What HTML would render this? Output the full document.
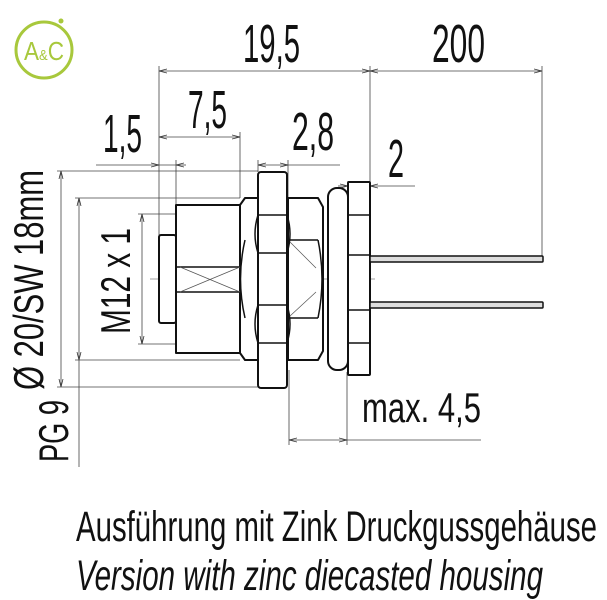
<!DOCTYPE html>
<html><head><meta charset="utf-8"><style>
html,body{margin:0;padding:0;background:#fff;}
svg{display:block;}
text{font-family:"Liberation Sans Narrow","Liberation Sans",sans-serif;fill:#111;}
</style></head><body>
<svg width="607" height="600" viewBox="0 0 607 600" xmlns="http://www.w3.org/2000/svg">
<defs>
<marker id="a" markerWidth="8" markerHeight="6" refX="8" refY="3" orient="auto-start-reverse" markerUnits="userSpaceOnUse"><path d="M0,1 L8,3 L0,5" fill="none" stroke="#333" stroke-width="0.8"/></marker>
</defs>
<!-- logo -->
<circle cx="44" cy="50" r="28" fill="none" stroke="#a8c83c" stroke-width="3"/>
<circle cx="61" cy="21" r="2.5" fill="#a8c83c"/>
<text x="44" y="60" text-anchor="middle" font-size="26" style="fill:#a8c83c" textLength="40" lengthAdjust="spacingAndGlyphs">A<tspan font-size="15">&amp;</tspan>C</text>

<g stroke="#444" stroke-width="0.8" fill="none">
<!-- vertical extension lines -->
<line x1="159" y1="66" x2="159" y2="235"/>
<line x1="176" y1="160" x2="176" y2="205"/>
<line x1="240" y1="132" x2="240" y2="198"/>
<line x1="258" y1="160" x2="258" y2="172"/>
<line x1="288" y1="160" x2="288" y2="198"/>
<line x1="348" y1="181" x2="348" y2="182"/>
<line x1="370" y1="66" x2="370" y2="256"/>
<line x1="542" y1="66" x2="542" y2="256"/>
<line x1="289" y1="370" x2="289" y2="445"/>
<line x1="347" y1="372" x2="347" y2="445"/>
<!-- horizontal dims -->
<line x1="159" y1="71" x2="370" y2="71" marker-start="url(#a)" marker-end="url(#a)"/>
<line x1="370" y1="71" x2="542" y2="71" marker-start="url(#a)" marker-end="url(#a)"/>
<line x1="159" y1="137" x2="240" y2="137" marker-start="url(#a)" marker-end="url(#a)"/>
<line x1="96" y1="165" x2="159" y2="165" marker-end="url(#a)"/>
<line x1="186" y1="165" x2="176" y2="165" marker-end="url(#a)"/>
<line x1="159" y1="165" x2="176" y2="165"/>
<line x1="258" y1="165" x2="288" y2="165" marker-start="url(#a)" marker-end="url(#a)"/>
<line x1="288" y1="165" x2="340" y2="165"/>
<line x1="338" y1="186" x2="348" y2="186" marker-end="url(#a)"/>
<line x1="415" y1="186" x2="370" y2="186" marker-end="url(#a)"/>
<line x1="348" y1="186" x2="370" y2="186"/>
<line x1="289" y1="440" x2="347" y2="440" marker-start="url(#a)" marker-end="url(#a)"/>
<line x1="347" y1="440" x2="481" y2="440"/>
<!-- left horizontal extension lines -->
<line x1="57" y1="171" x2="258" y2="171"/>
<line x1="57" y1="387" x2="258" y2="387"/>
<line x1="75" y1="198" x2="240" y2="198"/>
<line x1="75" y1="360" x2="240" y2="360"/>
<line x1="138" y1="214" x2="175" y2="214"/>
<line x1="138" y1="344" x2="175" y2="344"/>
<!-- left vertical dims -->
<line x1="61" y1="171" x2="61" y2="387" marker-start="url(#a)" marker-end="url(#a)"/>
<line x1="79" y1="198" x2="79" y2="360" marker-start="url(#a)" marker-end="url(#a)"/>
<line x1="79" y1="360" x2="79" y2="467"/>
<line x1="142" y1="214" x2="142" y2="344" marker-start="url(#a)" marker-end="url(#a)"/>
<!-- center line -->
<line x1="150" y1="279" x2="375" y2="279" stroke-width="0.5"/>
</g>

<!-- connector -->
<g stroke="#111" stroke-width="2" fill="#fff" stroke-linejoin="round">
<rect x="159" y="235" width="17" height="88" rx="2"/>
<rect x="176" y="205" width="64" height="148"/>
<path d="M240,205 L245,198 L258,198 L258,360 L245,360 L240,353 Z"/>
<path d="M288,198 L318,198 L323,207 L323,351 L318,360 L288,360 Z"/>
<rect x="328" y="188" width="20" height="182" rx="9"/>
<rect x="348" y="182" width="22" height="193" rx="1"/>
<rect x="258" y="172" width="29" height="216" rx="3"/>
</g>
<g stroke="#111" stroke-width="1.5" fill="none">
<line x1="176" y1="267" x2="240" y2="267"/>
<line x1="176" y1="292" x2="240" y2="292"/>
<path d="M245,240 Q236,279 245,318"/>
<line x1="258" y1="215" x2="287" y2="215"/>
<line x1="258" y1="253" x2="287" y2="253"/>
<line x1="258" y1="305" x2="287" y2="305"/>
<line x1="258" y1="343" x2="287" y2="343"/>
<path d="M258,215 Q252,234 258,253"/>
<path d="M287,215 Q293,234 287,253"/>
<path d="M258,305 Q252,324 258,343"/>
<path d="M287,305 Q293,324 287,343"/>
<line x1="288" y1="240" x2="318" y2="240"/>
<line x1="288" y1="318" x2="318" y2="318"/>
<path d="M318,240 Q326,279 318,318"/>
<line x1="348" y1="215" x2="370" y2="215"/>
<line x1="348" y1="255" x2="370" y2="255"/>
<line x1="348" y1="310" x2="370" y2="310"/>
<line x1="348" y1="343" x2="370" y2="343"/>
</g>
<g stroke="#555" stroke-width="0.7" fill="none">
<line x1="180" y1="267" x2="240" y2="292"/>
<line x1="180" y1="292" x2="240" y2="267"/>
<line x1="290" y1="242" x2="316" y2="268"/>
<line x1="290" y1="316" x2="316" y2="292"/>
</g>
<!-- pins -->
<g stroke="#111" stroke-width="1.5" fill="#ddd">
<rect x="370" y="256" width="173" height="6" rx="1"/>
<rect x="370" y="302" width="173" height="6" rx="1"/>
</g>

<!-- labels -->
<text x="243" y="62" font-size="54" textLength="57" lengthAdjust="spacingAndGlyphs">19,5</text>
<text x="432" y="62" font-size="54" textLength="53" lengthAdjust="spacingAndGlyphs">200</text>
<text x="188" y="128" font-size="54" textLength="39" lengthAdjust="spacingAndGlyphs">7,5</text>
<text x="103" y="152" font-size="54" textLength="39" lengthAdjust="spacingAndGlyphs">1,5</text>
<text x="292" y="150" font-size="54" textLength="42" lengthAdjust="spacingAndGlyphs">2,8</text>
<text x="388" y="177" font-size="54" textLength="16" lengthAdjust="spacingAndGlyphs">2</text>
<text x="362" y="422" font-size="42" textLength="119" lengthAdjust="spacingAndGlyphs">max. 4,5</text>
<text transform="translate(43,390) rotate(-90)" font-size="42" textLength="220" lengthAdjust="spacingAndGlyphs">Ø 20/SW 18mm</text>
<text transform="translate(68,462) rotate(-90)" font-size="42" textLength="62" lengthAdjust="spacingAndGlyphs">PG 9</text>
<text transform="translate(130,334) rotate(-90)" font-size="42" textLength="106" lengthAdjust="spacingAndGlyphs">M12 x 1</text>
<text x="76" y="541" font-size="43" textLength="521" lengthAdjust="spacingAndGlyphs">Ausführung mit Zink Druckgussgehäuse</text>
<text x="76" y="590" font-size="43" font-style="italic" textLength="467" lengthAdjust="spacingAndGlyphs">Version with zinc diecasted housing</text>
</svg>
</body></html>
